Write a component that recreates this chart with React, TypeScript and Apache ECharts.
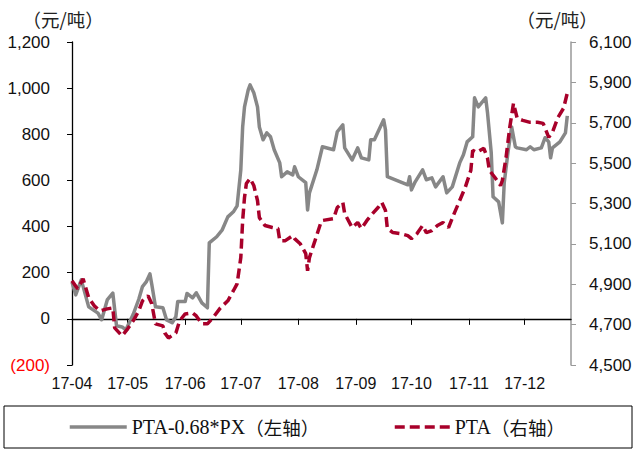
import React, { useEffect, useRef } from "react";
import * as echarts from "echarts";

// PTA-0.68*PX spread (left axis, 元/吨)
const spreadDates = [
  "04-01","04-03","04-06","04-10","04-15","04-17","04-20","04-23","04-25","04-28","04-30",
  "05-04","05-07","05-09","05-11","05-13","05-14","05-16","05-20","05-22","05-25","05-27","05-28",
  "06-01","06-02","06-05","06-07","06-10","06-13","06-14","06-18","06-21","06-24","06-27","06-29",
  "07-01","07-02","07-03","07-05","07-06","07-08","07-10","07-11","07-13","07-15","07-17","07-19","07-22","07-23","07-26","07-29","07-30",
  "08-01","08-05","08-06","08-07","08-11","08-14","08-20","08-22","08-25","08-26","08-30",
  "09-02","09-04","09-08","09-09","09-11","09-16","09-17","09-18","09-29","09-30",
  "10-01","10-03","10-07","10-09","10-12","10-14","10-18","10-20","10-23","10-27","10-29","10-31",
  "11-03","11-04","11-06","11-10","11-11","11-13","11-14","11-17","11-19","11-20","11-22","11-24","11-26","11-27",
  "12-02","12-04","12-06","12-10","12-12","12-14","12-15","12-16","12-20","12-23","12-24",
];
const spreadValues = [
  160,104,169,52,25,-4,82,112,-30,-35,-48,
  20,85,140,160,195,150,52,48,-5,-17,9,75,
  75,110,91,113,69,48,329,356,386,442,464,490,
  646,832,919,993,1014,980,919,832,776,806,789,733,676,616,637,624,659,
  616,590,472,546,646,746,733,811,841,741,689,
  741,698,689,776,776,863,819,616,581,616,
  559,594,646,603,611,572,616,546,572,676,711,767,
  789,958,919,958,893,720,529,507,416,590,720,832,746,741,
  733,746,733,741,785,767,698,741,767,806,880,
];

// PTA price (right axis, 元/吨)
const ptaDates = [
  "04-01","04-04","04-07","04-10","04-13","04-16","04-20","04-23","04-24","04-28",
  "05-01","05-04","05-07","05-09","05-12","05-14","05-16","05-20","05-21","05-23","05-27","05-29",
  "06-01","06-05","06-07","06-10","06-13","06-16","06-20","06-24","06-27","06-29",
  "07-01","07-02","07-03","07-04","07-06","07-08","07-10","07-11","07-14","07-18","07-21","07-22","07-25","07-29","07-30",
  "08-02","08-05","08-06","08-07","08-10","08-13","08-14","08-20","08-22","08-25","08-26","08-30",
  "09-02","09-04","09-07","09-10","09-13","09-15","09-17","09-18","09-21","09-25","09-29",
  "10-01","10-04","10-07","10-09","10-12","10-15","10-18","10-21","10-24","10-27","10-30",
  "11-02","11-03","11-05","11-09","11-11","11-12","11-15","11-18","11-19","11-21","11-23","11-24","11-25","11-27","11-30",
  "12-04","12-08","12-11","12-14","12-16","12-19","12-22","12-24","12-25",
];
const ptaValues = [
  4917,4878,4927,4833,4793,4768,4778,4783,4684,4644,
  4679,4719,4768,4818,4843,4803,4704,4694,4659,4634,4659,4719,
  4753,4758,4743,4704,4704,4734,4783,4818,4868,4902,
  5032,5216,5330,5399,5424,5389,5315,5230,5191,5181,5176,5116,5116,5141,5126,
  5101,5052,4967,5032,5116,5201,5216,5225,5280,5305,5250,5181,
  5206,5176,5216,5250,5280,5305,5265,5176,5156,5151,5141,
  5126,5151,5191,5156,5166,5191,5206,5181,5250,5315,5380,
  5464,5563,5553,5573,5524,5464,5429,5389,5414,5529,5678,5737,5797,5722,5712,
  5702,5702,5697,5628,5653,5727,5772,5847,5862,
];

const leftTicks = { min: -200, max: 1200, interval: 200 };
const rightTicks = { min: 4500, max: 6100, interval: 200 };
const seriesNames = ["PTA-0.68*PX（左轴）", "PTA（右轴）"];
const unitLabel = "（元/吨）";

function buildDays(): string[] {
  const out: string[] = [];
  const start = Date.UTC(2017, 3, 1);
  const end = Date.UTC(2017, 11, 26);
  for (let t = start; t <= end; t += 86400000) {
    const d = new Date(t);
    const mm = String(d.getUTCMonth() + 1).padStart(2, "0");
    const dd = String(d.getUTCDate()).padStart(2, "0");
    out.push(mm + "-" + dd);
  }
  return out;
}

const fmt = (v: number) => {
  const s = Math.abs(v).toLocaleString("en-US");
  return v < 0 ? "{neg|(" + s + ")}" : s;
};

const legendFmt = (name: string) => {
  const i = name.indexOf("（");
  return "{a|" + name.slice(0, i) + "}{b|" + name.slice(i) + "}";
};

export default function App() {
  const ref = useRef<HTMLDivElement>(null);
  useEffect(() => {
    document.body.style.margin = "0";
    if (!ref.current) return;
    const chart = echarts.init(ref.current, null, { renderer: "svg" });
    const days = buildDays();
    const isMonthStart = (_i: number, v: string) => v.endsWith("-01");
    const sansFont = "'Liberation Sans', Arial, sans-serif";
    const legendRich = {
      a: { fontFamily: "'Liberation Serif', serif", fontSize: 20, color: "#111" },
      b: { fontFamily: "'Noto Sans CJK SC', sans-serif", fontSize: 18.5, color: "#111" },
    };
    const unitStyle = (x: number) => ({
      type: "text",
      x,
      y: 19,
      style: {
        text: unitLabel,
        font: "18.5px 'Noto Sans CJK SC'",
        fill: "#222",
        textAlign: "center",
        textVerticalAlign: "middle",
      },
    });
    chart.setOption({
      animation: false,
      backgroundColor: "#ffffff",
      grid: { left: 72, right: 65, top: 42, bottom: 85, containLabel: false },
      xAxis: [
        {
          type: "category",
          data: days,
          boundaryGap: false,
          position: "bottom",
          axisLine: { show: false, onZero: false },
          axisTick: { show: false },
          axisLabel: {
            interval: isMonthStart,
            formatter: (v: string) => "17-" + v.slice(0, 2),
            fontFamily: sansFont,
            fontSize: 16,
            color: "#111",
            margin: 10,
          },
          splitLine: { show: false },
        },
        {
          type: "category",
          data: days,
          boundaryGap: false,
          position: "bottom",
          axisLine: { show: true, onZero: true, onZeroAxisIndex: 0, lineStyle: { color: "#000", width: 1.3 } },
          axisTick: { show: true, interval: isMonthStart, length: 6, lineStyle: { color: "#000", width: 1 } },
          axisLabel: { show: false },
          splitLine: { show: false },
        },
      ],
      yAxis: [
        {
          type: "value",
          position: "left",
          ...leftTicks,
          axisLine: { show: true, lineStyle: { color: "#000", width: 1.3 } },
          axisTick: { show: true, length: 5, lineStyle: { color: "#000" } },
          splitLine: { show: false },
          axisLabel: {
            formatter: fmt,
            fontFamily: sansFont,
            fontSize: 17,
            color: "#111",
            margin: 22,
            rich: { neg: { color: "#ff0000", fontFamily: sansFont, fontSize: 17 } },
          },
        },
        {
          type: "value",
          position: "right",
          ...rightTicks,
          axisLine: { show: true, lineStyle: { color: "#999", width: 1.5 } },
          axisTick: { show: true, length: 5, lineStyle: { color: "#999" } },
          splitLine: { show: false },
          axisLabel: {
            formatter: (v: number) => v.toLocaleString("en-US"),
            fontFamily: sansFont,
            fontSize: 17,
            color: "#111",
            margin: 18,
          },
        },
      ],
      legend: [
        {
          data: [seriesNames[0]],
          left: 68,
          top: 417,
          padding: 0,
          itemWidth: 57,
          itemHeight: 20,
          itemGap: 5,
          itemStyle: { opacity: 0 },
          lineStyle: { width: 3.5 },
          formatter: legendFmt,
          textStyle: { rich: legendRich },
        },
        {
          data: [seriesNames[1]],
          left: 393,
          top: 417,
          padding: 0,
          itemWidth: 55,
          itemHeight: 20,
          itemGap: 5,
          itemStyle: { opacity: 0 },
          lineStyle: { width: 3.5 },
          formatter: legendFmt,
          textStyle: { rich: legendRich },
        },
      ],
      graphic: [
        {
          type: "rect",
          shape: { x: 4, y: 406, width: 628, height: 42 },
          style: { fill: "none", stroke: "#000", lineWidth: 1 },
          silent: true,
        },
        unitStyle(63),
        unitStyle(557),
      ],
      series: [
        {
          name: seriesNames[0],
          type: "line",
          xAxisIndex: 0,
          yAxisIndex: 0,
          symbol: "none",
          data: spreadDates.map((d, i) => [d, spreadValues[i]]),
          lineStyle: { color: "#878787", width: 3.5, join: "round" },
          itemStyle: { color: "#878787" },
        },
        {
          name: seriesNames[1],
          type: "line",
          xAxisIndex: 0,
          yAxisIndex: 1,
          symbol: "none",
          data: ptaDates.map((d, i) => [d, ptaValues[i]]),
          lineStyle: { color: "#A8002A", width: 3.5, type: [10, 5] },
          itemStyle: { color: "#A8002A" },
        },
      ],
    });
    return () => chart.dispose();
  }, []);
  return <div ref={ref} style={{ width: 636, height: 450 }} />;
}
